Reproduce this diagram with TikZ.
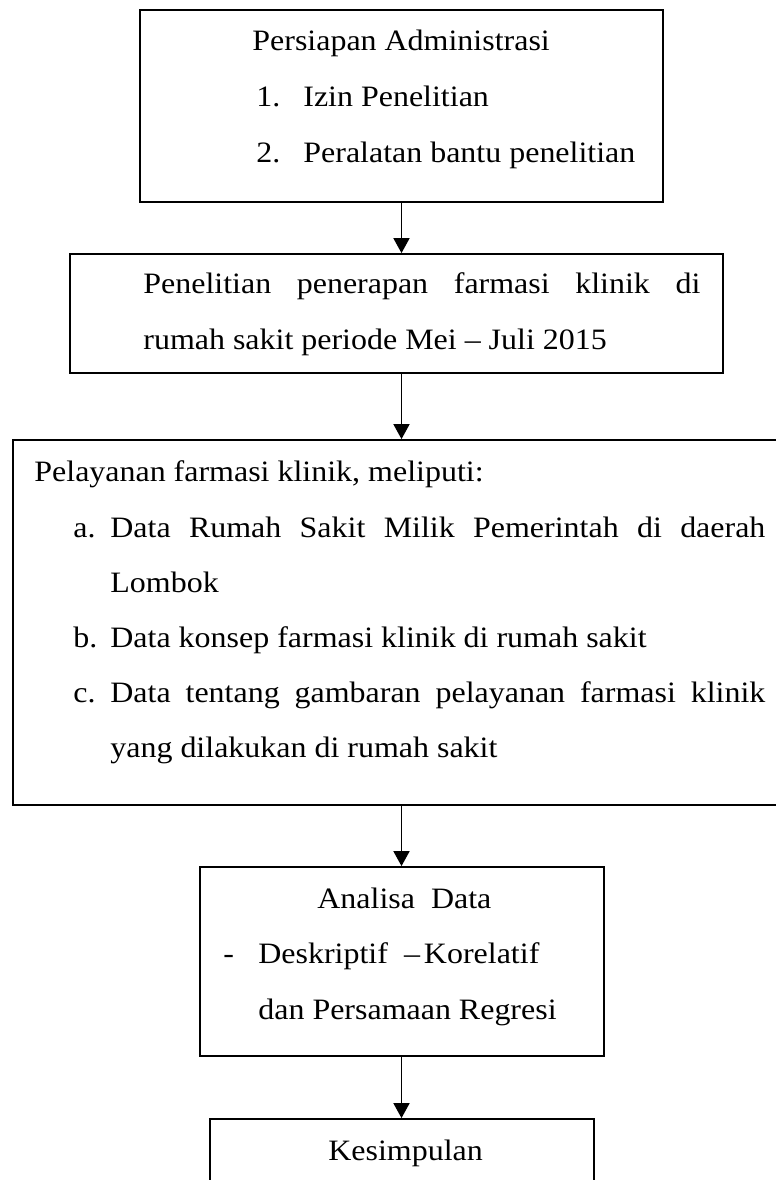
\documentclass[tikz,border=0pt]{standalone}
\usepackage{fontspec}
\setmainfont[FakeStretch=1.08]{Liberation Serif}
\usetikzlibrary{arrows.meta}
\begin{document}
\begin{tikzpicture}[x=1pt, y=-1pt, font=\fontsize{14.8}{17}\selectfont]
%% one unit is one point, y runs downwards
%% labels are placed at their baseline, left end
\tikzstyle{arc}=[-{Triangle[width=8pt,length=7.5pt]},line width=0.9pt]
\tikzstyle{box}=[draw,line width=0.9pt,inner sep=0pt]
\tikzstyle{lbl}=[inner sep=0pt,anchor=base west]
\useasboundingbox (0,0) rectangle (388,590);
%% TikZ-figure elements %%
\node[box, minimum width=261.5pt, minimum height=96pt] at (200.75,53) (Badmin) {};
%% labels for box Badmin
\node[lbl] at (126,25) (Ladmin) {Persiapan Administrasi};
\node[lbl] at (128,53) (Ladmin1n) {1.};
\node[lbl] at (151.5,53) (Ladmin1) {Izin Penelitian};
\node[lbl] at (128,81) (Ladmin2n) {2.};
\node[lbl] at (151.5,81) (Ladmin2) {Peralatan bantu penelitian};
\node[box, minimum width=326.5pt, minimum height=59.5pt] at (198.25,156.75) (Bpenelitian) {};
%% labels for box Bpenelitian
\node[lbl] at (71.5,146.5) (Lpenelitian1) {\makebox[278.5pt][s]{Penelitian penerapan farmasi klinik di}};
\node[lbl] at (71.5,174.5) (Lpenelitian2) {rumah sakit periode Mei – Juli 2015};
\node[box, minimum width=396pt, minimum height=182.5pt] at (204.5,311.25) (Bpelayanan) {};
%% labels for box Bpelayanan
\node[lbl] at (17,240.5) (Lpelayanan) {Pelayanan farmasi klinik, meliputi:};
\node[lbl] at (36.5,268.5) (Lpelayananan) {a.};
\node[lbl] at (55,268.5) (Lpelayanana1) {\makebox[327.5pt][s]{Data Rumah Sakit Milik Pemerintah di daerah}};
\node[lbl] at (55,296) (Lpelayanana2) {Lombok};
\node[lbl] at (36.5,323.5) (Lpelayananbn) {b.};
\node[lbl] at (55,323.5) (Lpelayananb) {Data konsep farmasi klinik di rumah sakit};
\node[lbl] at (36.5,351) (Lpelayanancn) {c.};
\node[lbl] at (55,351) (Lpelayananc1) {\makebox[327.5pt][s]{Data tentang gambaran pelayanan farmasi klinik}};
\node[lbl] at (55,378.5) (Lpelayananc2) {yang dilakukan di rumah sakit};
\node[box, minimum width=202pt, minimum height=94.5pt] at (201,480.75) (Banalisa) {};
%% labels for box Banalisa
\node[lbl] at (158.5,454) (Lanalisa) {Analisa\ \ Data};
\node[lbl] at (111.5,481.5) (Lanalisa1n) {-};
\node[lbl] at (129,481.5) (Lanalisa1) {Deskriptif\hspace{8pt}–\hspace{2pt}Korelatif};
\node[lbl] at (129,509.5) (Lanalisa2) {dan Persamaan Regresi};
\node[box, minimum width=192pt, minimum height=60pt] at (201,589.5) (Bkesimpulan) {};
%% label for box Bkesimpulan
\node[lbl] at (164,580) (Lkesimpulan) {Kesimpulan};
%% arcs between the boxes
\draw[arc] (Badmin.south) -- (Badmin.south |- Bpenelitian.north);
\draw[arc] (Badmin.south |- Bpenelitian.south) -- (Badmin.south |- Bpelayanan.north);
\draw[arc] (Badmin.south |- Bpelayanan.south) -- (Badmin.south |- Banalisa.north);
\draw[arc] (Badmin.south |- Banalisa.south) -- (Badmin.south |- Bkesimpulan.north);
\end{tikzpicture}
\end{document}
